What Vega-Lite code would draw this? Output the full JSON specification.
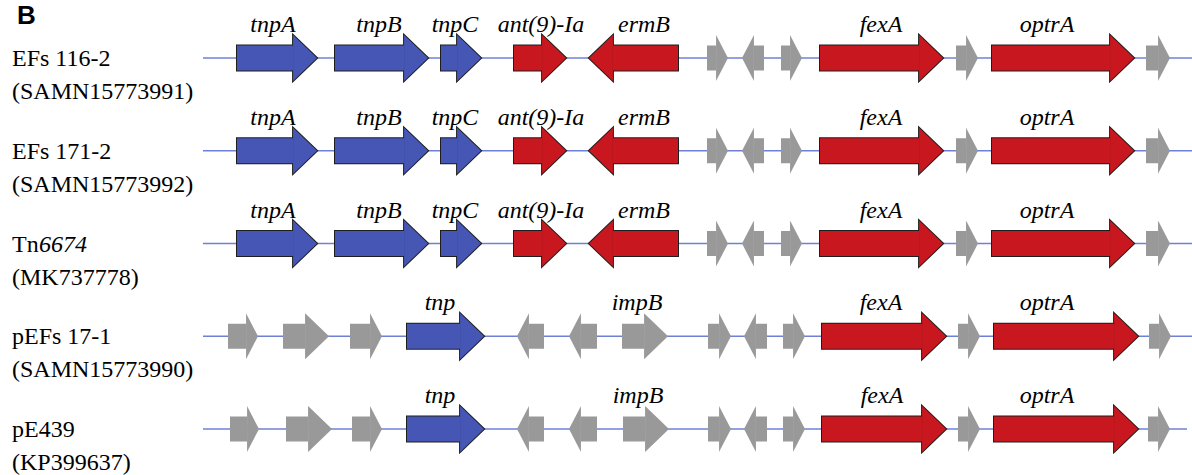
{
  "$schema": "https://vega.github.io/schema/vega-lite/v6.json",
  "width": 1192,
  "height": 475,
  "autosize": {"type": "none"},
  "padding": 0,
  "background": "white",
  "config": {"view": {"stroke": null}},
  "title": {"text": "B", "anchor": "start", "frame": "group", "orient": "top", "offset": 0, "dx": 17, "dy": 50, "font": "Liberation Sans", "fontSize": 26, "fontWeight": "bold", "color": "#000000", "baseline": "alphabetic"},
  "datasets": {
    "tracks": [
      {"track": "EFs 116-2", "line1": "EFs 116-2", "italic": "", "line2": "(SAMN15773991)", "from": 203, "to": 1192},
      {"track": "EFs 171-2", "line1": "EFs 171-2", "italic": "", "line2": "(SAMN15773992)", "from": 203, "to": 1192},
      {"track": "Tn6674", "line1": "Tn", "italic": "6674", "line2": "(MK737778)", "from": 203, "to": 1192},
      {"track": "pEFs 17-1", "line1": "pEFs 17-1", "italic": "", "line2": "(SAMN15773990)", "from": 203, "to": 1192},
      {"track": "pE439", "line1": "pE439", "italic": "", "line2": "(KP399637)", "from": 203, "to": 1187}
    ],
    "genes": [
      {"track": "EFs 116-2", "gene": "tnpA", "start": 237, "end": 317, "strand": "+", "group": "transposase", "labelAt": 273},
      {"track": "EFs 116-2", "gene": "tnpB", "start": 335, "end": 428, "strand": "+", "group": "transposase", "labelAt": 379},
      {"track": "EFs 116-2", "gene": "tnpC", "start": 441, "end": 481, "strand": "+", "group": "transposase", "labelAt": 455},
      {"track": "EFs 116-2", "gene": "ant(9)-Ia", "start": 514, "end": 566, "strand": "+", "group": "resistance", "labelAt": 541},
      {"track": "EFs 116-2", "gene": "ermB", "start": 589, "end": 678, "strand": "-", "group": "resistance", "labelAt": 644},
      {"track": "EFs 116-2", "gene": "", "start": 707, "end": 728, "strand": "+", "group": "other", "labelAt": null},
      {"track": "EFs 116-2", "gene": "", "start": 742, "end": 764, "strand": "-", "group": "other", "labelAt": null},
      {"track": "EFs 116-2", "gene": "", "start": 781, "end": 802, "strand": "+", "group": "other", "labelAt": null},
      {"track": "EFs 116-2", "gene": "fexA", "start": 820, "end": 943, "strand": "+", "group": "resistance", "labelAt": 881},
      {"track": "EFs 116-2", "gene": "", "start": 956, "end": 978, "strand": "+", "group": "other", "labelAt": null},
      {"track": "EFs 116-2", "gene": "optrA", "start": 992, "end": 1134, "strand": "+", "group": "resistance", "labelAt": 1047},
      {"track": "EFs 116-2", "gene": "", "start": 1146, "end": 1170, "strand": "+", "group": "other", "labelAt": null},

      {"track": "EFs 171-2", "gene": "tnpA", "start": 237, "end": 317, "strand": "+", "group": "transposase", "labelAt": 273},
      {"track": "EFs 171-2", "gene": "tnpB", "start": 335, "end": 428, "strand": "+", "group": "transposase", "labelAt": 379},
      {"track": "EFs 171-2", "gene": "tnpC", "start": 441, "end": 481, "strand": "+", "group": "transposase", "labelAt": 455},
      {"track": "EFs 171-2", "gene": "ant(9)-Ia", "start": 514, "end": 566, "strand": "+", "group": "resistance", "labelAt": 541},
      {"track": "EFs 171-2", "gene": "ermB", "start": 589, "end": 678, "strand": "-", "group": "resistance", "labelAt": 644},
      {"track": "EFs 171-2", "gene": "", "start": 707, "end": 728, "strand": "+", "group": "other", "labelAt": null},
      {"track": "EFs 171-2", "gene": "", "start": 742, "end": 764, "strand": "-", "group": "other", "labelAt": null},
      {"track": "EFs 171-2", "gene": "", "start": 781, "end": 802, "strand": "+", "group": "other", "labelAt": null},
      {"track": "EFs 171-2", "gene": "fexA", "start": 820, "end": 943, "strand": "+", "group": "resistance", "labelAt": 881},
      {"track": "EFs 171-2", "gene": "", "start": 956, "end": 978, "strand": "+", "group": "other", "labelAt": null},
      {"track": "EFs 171-2", "gene": "optrA", "start": 992, "end": 1134, "strand": "+", "group": "resistance", "labelAt": 1047},
      {"track": "EFs 171-2", "gene": "", "start": 1146, "end": 1170, "strand": "+", "group": "other", "labelAt": null},

      {"track": "Tn6674", "gene": "tnpA", "start": 237, "end": 317, "strand": "+", "group": "transposase", "labelAt": 273},
      {"track": "Tn6674", "gene": "tnpB", "start": 335, "end": 428, "strand": "+", "group": "transposase", "labelAt": 379},
      {"track": "Tn6674", "gene": "tnpC", "start": 441, "end": 481, "strand": "+", "group": "transposase", "labelAt": 455},
      {"track": "Tn6674", "gene": "ant(9)-Ia", "start": 514, "end": 566, "strand": "+", "group": "resistance", "labelAt": 541},
      {"track": "Tn6674", "gene": "ermB", "start": 589, "end": 678, "strand": "-", "group": "resistance", "labelAt": 644},
      {"track": "Tn6674", "gene": "", "start": 707, "end": 728, "strand": "+", "group": "other", "labelAt": null},
      {"track": "Tn6674", "gene": "", "start": 742, "end": 764, "strand": "-", "group": "other", "labelAt": null},
      {"track": "Tn6674", "gene": "", "start": 781, "end": 802, "strand": "+", "group": "other", "labelAt": null},
      {"track": "Tn6674", "gene": "fexA", "start": 820, "end": 943, "strand": "+", "group": "resistance", "labelAt": 881},
      {"track": "Tn6674", "gene": "", "start": 956, "end": 978, "strand": "+", "group": "other", "labelAt": null},
      {"track": "Tn6674", "gene": "optrA", "start": 992, "end": 1134, "strand": "+", "group": "resistance", "labelAt": 1047},
      {"track": "Tn6674", "gene": "", "start": 1146, "end": 1170, "strand": "+", "group": "other", "labelAt": null},

      {"track": "pEFs 17-1", "gene": "", "start": 228, "end": 258, "strand": "+", "group": "other", "labelAt": null},
      {"track": "pEFs 17-1", "gene": "", "start": 283, "end": 329, "strand": "+", "group": "other", "labelAt": null},
      {"track": "pEFs 17-1", "gene": "", "start": 350, "end": 382, "strand": "+", "group": "other", "labelAt": null},
      {"track": "pEFs 17-1", "gene": "tnp", "start": 407, "end": 484, "strand": "+", "group": "transposase", "labelAt": 440},
      {"track": "pEFs 17-1", "gene": "", "start": 517, "end": 544, "strand": "-", "group": "other", "labelAt": null},
      {"track": "pEFs 17-1", "gene": "", "start": 569, "end": 597, "strand": "-", "group": "other", "labelAt": null},
      {"track": "pEFs 17-1", "gene": "impB", "start": 622, "end": 668, "strand": "+", "group": "other", "labelAt": 637},
      {"track": "pEFs 17-1", "gene": "", "start": 708, "end": 731, "strand": "+", "group": "other", "labelAt": null},
      {"track": "pEFs 17-1", "gene": "", "start": 744, "end": 767, "strand": "-", "group": "other", "labelAt": null},
      {"track": "pEFs 17-1", "gene": "", "start": 783, "end": 805, "strand": "+", "group": "other", "labelAt": null},
      {"track": "pEFs 17-1", "gene": "fexA", "start": 822, "end": 946, "strand": "+", "group": "resistance", "labelAt": 881},
      {"track": "pEFs 17-1", "gene": "", "start": 958, "end": 980, "strand": "+", "group": "other", "labelAt": null},
      {"track": "pEFs 17-1", "gene": "optrA", "start": 994, "end": 1138, "strand": "+", "group": "resistance", "labelAt": 1047},
      {"track": "pEFs 17-1", "gene": "", "start": 1149, "end": 1171, "strand": "+", "group": "other", "labelAt": null},

      {"track": "pE439", "gene": "", "start": 230, "end": 259, "strand": "+", "group": "other", "labelAt": null},
      {"track": "pE439", "gene": "", "start": 286, "end": 332, "strand": "+", "group": "other", "labelAt": null},
      {"track": "pE439", "gene": "", "start": 352, "end": 382, "strand": "+", "group": "other", "labelAt": null},
      {"track": "pE439", "gene": "tnp", "start": 407, "end": 484, "strand": "+", "group": "transposase", "labelAt": 440},
      {"track": "pE439", "gene": "", "start": 517, "end": 544, "strand": "-", "group": "other", "labelAt": null},
      {"track": "pE439", "gene": "", "start": 569, "end": 597, "strand": "-", "group": "other", "labelAt": null},
      {"track": "pE439", "gene": "impB", "start": 623, "end": 669, "strand": "+", "group": "other", "labelAt": 638},
      {"track": "pE439", "gene": "", "start": 708, "end": 731, "strand": "+", "group": "other", "labelAt": null},
      {"track": "pE439", "gene": "", "start": 744, "end": 767, "strand": "-", "group": "other", "labelAt": null},
      {"track": "pE439", "gene": "", "start": 783, "end": 805, "strand": "+", "group": "other", "labelAt": null},
      {"track": "pE439", "gene": "fexA", "start": 822, "end": 946, "strand": "+", "group": "resistance", "labelAt": 882},
      {"track": "pE439", "gene": "", "start": 958, "end": 980, "strand": "+", "group": "other", "labelAt": null},
      {"track": "pE439", "gene": "optrA", "start": 994, "end": 1138, "strand": "+", "group": "resistance", "labelAt": 1047},
      {"track": "pE439", "gene": "", "start": 1148, "end": 1170, "strand": "+", "group": "other", "labelAt": null}
    ]
  },
  "encoding": {
    "y": {"field": "track", "type": "nominal", "scale": {"type": "point", "domain": ["EFs 116-2", "EFs 171-2", "Tn6674", "pEFs 17-1", "pE439"], "range": [58, 429], "padding": 0}, "axis": null}
  },
  "layer": [
    {
      "data": {"name": "tracks"},
      "mark": {"type": "rule", "color": "#6f80d8", "strokeWidth": 1.3},
      "encoding": {
        "x": {"field": "from", "type": "quantitative", "scale": {"domain": [0, 1192], "nice": false, "zero": false}, "axis": null},
        "x2": {"field": "to"}
      }
    },
    {
      "data": {"name": "genes"},
      "transform": [{"filter": "datum.group != 'other' && datum.strand == '+'"}],
      "mark": {"type": "bar", "height": 25, "x2Offset": -24, "stroke": "#1e1e1e", "strokeWidth": 2},
      "encoding": {
        "x": {"field": "start", "type": "quantitative"},
        "x2": {"field": "end"},
        "color": {"field": "group", "type": "nominal", "scale": {"domain": ["transposase", "resistance", "other"], "range": ["#4656b4", "#c8171e", "#999999"]}, "legend": null}
      }
    },
    {
      "data": {"name": "genes"},
      "transform": [{"filter": "datum.group != 'other' && datum.strand == '-'"}],
      "mark": {"type": "bar", "height": 25, "x2Offset": 24, "stroke": "#1e1e1e", "strokeWidth": 2},
      "encoding": {
        "x": {"field": "end", "type": "quantitative"},
        "x2": {"field": "start"},
        "color": {"field": "group", "type": "nominal", "legend": null}
      }
    },
    {
      "data": {"name": "genes"},
      "transform": [{"filter": "datum.group != 'other' && datum.strand == '+'"}],
      "mark": {"type": "point", "filled": true, "opacity": 1, "shape": "M0,0L-1.04,-1L-1.04,1Z", "size": 2116, "stroke": "#1e1e1e", "strokeWidth": 2},
      "encoding": {
        "x": {"field": "end", "type": "quantitative"},
        "color": {"field": "group", "type": "nominal", "legend": null}
      }
    },
    {
      "data": {"name": "genes"},
      "transform": [{"filter": "datum.group != 'other' && datum.strand == '-'"}],
      "mark": {"type": "point", "filled": true, "opacity": 1, "shape": "M0,0L1.04,-1L1.04,1Z", "size": 2116, "stroke": "#1e1e1e", "strokeWidth": 2},
      "encoding": {
        "x": {"field": "start", "type": "quantitative"},
        "color": {"field": "group", "type": "nominal", "legend": null}
      }
    },
    {
      "data": {"name": "genes"},
      "transform": [{"filter": "datum.strand == '+' && datum.end - datum.start >= 38"}],
      "mark": {"type": "bar", "height": 25, "x2Offset": -24},
      "encoding": {
        "x": {"field": "start", "type": "quantitative"},
        "x2": {"field": "end"},
        "color": {"field": "group", "type": "nominal", "legend": null}
      }
    },
    {
      "data": {"name": "genes"},
      "transform": [{"filter": "datum.strand == '-' && datum.end - datum.start >= 38"}],
      "mark": {"type": "bar", "height": 25, "x2Offset": 24},
      "encoding": {
        "x": {"field": "end", "type": "quantitative"},
        "x2": {"field": "start"},
        "color": {"field": "group", "type": "nominal", "legend": null}
      }
    },
    {
      "data": {"name": "genes"},
      "transform": [{"filter": "datum.strand == '+' && datum.end - datum.start < 38"}],
      "mark": {"type": "bar", "height": 25, "x2Offset": -12},
      "encoding": {
        "x": {"field": "start", "type": "quantitative"},
        "x2": {"field": "end"},
        "color": {"field": "group", "type": "nominal", "legend": null}
      }
    },
    {
      "data": {"name": "genes"},
      "transform": [{"filter": "datum.strand == '-' && datum.end - datum.start < 38"}],
      "mark": {"type": "bar", "height": 25, "x2Offset": 12},
      "encoding": {
        "x": {"field": "end", "type": "quantitative"},
        "x2": {"field": "start"},
        "color": {"field": "group", "type": "nominal", "legend": null}
      }
    },
    {
      "data": {"name": "genes"},
      "transform": [{"filter": "datum.strand == '+' && datum.end - datum.start >= 38"}],
      "mark": {"type": "point", "filled": true, "opacity": 1, "shape": "M0,0L-1.04,-1L-1.04,1Z", "size": 2116, "strokeWidth": 0},
      "encoding": {
        "x": {"field": "end", "type": "quantitative"},
        "color": {"field": "group", "type": "nominal", "legend": null}
      }
    },
    {
      "data": {"name": "genes"},
      "transform": [{"filter": "datum.strand == '-' && datum.end - datum.start >= 38"}],
      "mark": {"type": "point", "filled": true, "opacity": 1, "shape": "M0,0L1.04,-1L1.04,1Z", "size": 2116, "strokeWidth": 0},
      "encoding": {
        "x": {"field": "start", "type": "quantitative"},
        "color": {"field": "group", "type": "nominal", "legend": null}
      }
    },
    {
      "data": {"name": "genes"},
      "transform": [{"filter": "datum.strand == '+' && datum.end - datum.start < 38"}],
      "mark": {"type": "point", "filled": true, "opacity": 1, "shape": "M0,0L-0.52,-1L-0.52,1Z", "size": 2116, "strokeWidth": 0},
      "encoding": {
        "x": {"field": "end", "type": "quantitative"},
        "color": {"field": "group", "type": "nominal", "legend": null}
      }
    },
    {
      "data": {"name": "genes"},
      "transform": [{"filter": "datum.strand == '-' && datum.end - datum.start < 38"}],
      "mark": {"type": "point", "filled": true, "opacity": 1, "shape": "M0,0L0.52,-1L0.52,1Z", "size": 2116, "strokeWidth": 0},
      "encoding": {
        "x": {"field": "start", "type": "quantitative"},
        "color": {"field": "group", "type": "nominal", "legend": null}
      }
    },
    {
      "data": {"name": "genes"},
      "transform": [{"filter": "datum.gene != ''"}],
      "mark": {"type": "text", "font": "Liberation Serif", "fontStyle": "italic", "fontSize": 24, "align": "center", "baseline": "alphabetic", "dy": -26, "color": "#000000"},
      "encoding": {
        "x": {"field": "labelAt", "type": "quantitative"},
        "text": {"field": "gene"}
      }
    },
    {
      "data": {"name": "tracks"},
      "mark": {"type": "text", "font": "Liberation Serif", "fontSize": 24, "align": "left", "baseline": "alphabetic", "dy": 8, "color": "#000000"},
      "encoding": {
        "x": {"datum": 12, "type": "quantitative"},
        "text": {"field": "line1"}
      }
    },
    {
      "data": {"name": "tracks"},
      "mark": {"type": "text", "font": "Liberation Serif", "fontStyle": "italic", "fontSize": 24, "align": "left", "baseline": "alphabetic", "dy": 8, "dx": 27, "color": "#000000"},
      "encoding": {
        "x": {"datum": 12, "type": "quantitative"},
        "text": {"field": "italic"}
      }
    },
    {
      "data": {"name": "tracks"},
      "mark": {"type": "text", "font": "Liberation Serif", "fontSize": 24, "align": "left", "baseline": "alphabetic", "dy": 41, "color": "#000000"},
      "encoding": {
        "x": {"datum": 12, "type": "quantitative"},
        "text": {"field": "line2"}
      }
    }
  ]
}
